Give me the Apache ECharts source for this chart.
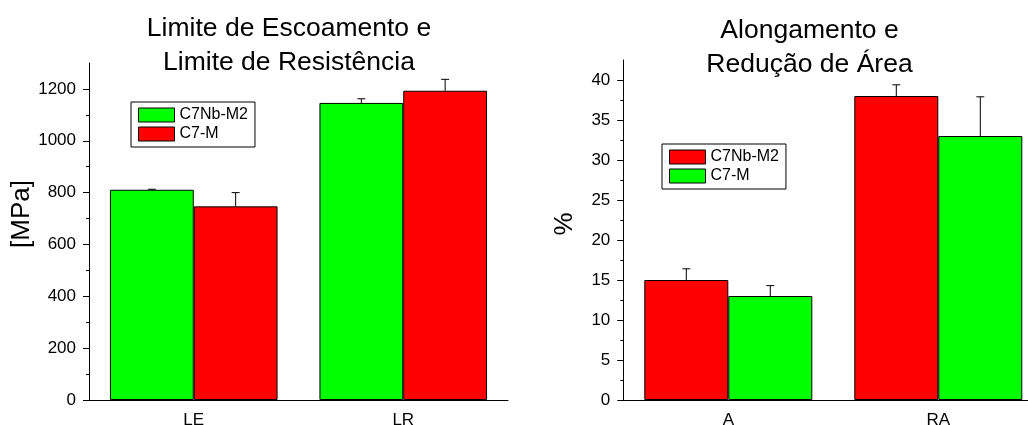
<!DOCTYPE html>
<html><head><meta charset="utf-8">
<script src="https://cdn.jsdelivr.net/npm/echarts@6/dist/echarts.min.js"></script>
<style>
html,body{margin:0;padding:0;background:#fff;}
#l{position:absolute;left:0;top:0;width:520px;height:425px;}
#r{position:absolute;left:520px;top:0;width:508px;height:425px;}
</style>
</head><body>
<div id="l"></div><div id="r"></div>
<script>
// ---- Left chart data ----
const leftTitle = 'Limite de Escoamento e\nLimite de Resistência';
const leftCategories = ['LE', 'LR'];
const leftNbName = 'C7Nb-M2';
const leftNbValues = [811, 1146];
const leftNbErrors = [2, 16];
const leftC7Name = 'C7-M';
const leftC7Values = [747, 1193];
const leftC7Errors = [53, 44];
const leftMajorTicks = [0, 200, 400, 600, 800, 1000, 1200];
const leftMinorTicks = [100, 300, 500, 700, 900, 1100];
const leftMax = 1300;

// ---- Right chart data ----
const rightTitle = 'Alongamento e\nRedução de Área';
const rightCategories = ['A', 'RA'];
const rightNbName = 'C7Nb-M2';
const rightNbValues = [15, 38];
const rightNbErrors = [1.4, 1.4];
const rightC7Name = 'C7-M';
const rightC7Values = [13, 33];
const rightC7Errors = [1.3, 4.9];
const rightMajorTicks = [0, 5, 10, 15, 20, 25, 30, 35, 40];
const rightMinorTicks = [2.5, 7.5, 12.5, 17.5, 22.5, 27.5, 32.5, 37.5];
const rightMax = 42.5;

const GREEN = '#00ff00', RED = '#ff0000', BLACK = '#000000';
const FONT = '"Liberation Sans", Arial, Helvetica, sans-serif';

function errSeries(values, errors, side) {
  return {
    type: 'custom',
    z: 5,
    silent: true,
    data: values.map((v, i) => [i, v, errors[i]]),
    renderItem: function (params, api) {
      const i = api.value(0), v = api.value(1), e = api.value(2);
      const base = api.coord([i, v]);
      const top = api.coord([i, v + e]);
      const band = api.size([1, 0])[0];
      const bw = band * 0.8 / 2;
      const cx = base[0] + (side === 0 ? -bw / 2 : bw / 2);
      const st = { stroke: BLACK, lineWidth: 1 };
      return {
        type: 'group',
        children: [
          { type: 'line', shape: { x1: cx, y1: base[1], x2: cx, y2: top[1] }, style: st },
          { type: 'line', shape: { x1: cx - 4, y1: top[1], x2: cx + 4, y2: top[1] }, style: st }
        ]
      };
    }
  };
}

function buildOption(cfg) {
  return {
    animation: false,
    textStyle: { fontFamily: FONT },
    title: {
      text: cfg.title,
      left: cfg.titleX, top: cfg.titleY, textAlign: 'center', padding: 0,
      textStyle: { fontFamily: FONT, fontSize: 26.5, fontWeight: 'normal', color: BLACK, lineHeight: 34 }
    },
    legend: {
      orient: 'vertical',
      left: cfg.legendX, top: cfg.legendY,
      padding: [5, 7, 5, 7],
      borderColor: BLACK, borderWidth: 1, backgroundColor: '#fff',
      icon: 'rect',
      itemWidth: 36, itemHeight: 14, itemGap: 3,
      itemStyle: { borderColor: BLACK, borderWidth: 1 },
      textStyle: { fontFamily: FONT, fontSize: 16, color: BLACK },
      data: [cfg.s1Name, cfg.s2Name]
    },
    grid: {
      left: cfg.gridLeft, top: cfg.gridTop, width: cfg.gridWidth, height: cfg.gridHeight,
      containLabel: false, outerBoundsMode: 'none'
    },
    xAxis: {
      type: 'category',
      data: cfg.categories,
      axisLine: { lineStyle: { color: BLACK, width: 1 } },
      axisTick: { alignWithLabel: true, length: 6, lineStyle: { color: BLACK } },
      axisLabel: { color: BLACK, fontSize: 17, fontFamily: FONT, margin: 12 },
      splitLine: { show: false }
    },
    yAxis: [{
      type: 'value', min: 0, max: cfg.max, position: 'left',
      name: cfg.yName, nameLocation: 'middle', nameGap: cfg.nameGap, nameMoveOverlap: false,
      nameTextStyle: { fontFamily: FONT, fontSize: 26, color: BLACK, padding: [0, 0, 0, cfg.namePad] },
      axisLine: { show: true, lineStyle: { color: BLACK, width: 1 } },
      axisTick: { show: true, length: 6, lineStyle: { color: BLACK }, customValues: cfg.major },
      axisLabel: { color: BLACK, fontSize: 17, fontFamily: FONT, margin: 13, customValues: cfg.major,
        formatter: function (v) { return String(v); } },
      splitLine: { show: false }
    }, {
      type: 'value', min: 0, max: cfg.max, position: 'left', offset: 0,
      axisLine: { show: false },
      axisTick: { show: true, length: 3, lineStyle: { color: BLACK }, customValues: cfg.minor },
      axisLabel: { show: false },
      splitLine: { show: false }
    }],
    series: [
      {
        name: cfg.s1Name, type: 'bar', data: cfg.s1Values, yAxisIndex: 0,
        barGap: '0%', barCategoryGap: '20%',
        itemStyle: { color: cfg.s1Color, borderColor: BLACK, borderWidth: 1 }
      },
      {
        name: cfg.s2Name, type: 'bar', data: cfg.s2Values, yAxisIndex: 0,
        barGap: '0%', barCategoryGap: '20%',
        itemStyle: { color: cfg.s2Color, borderColor: BLACK, borderWidth: 1 }
      },
      Object.assign(errSeries(cfg.s1Values, cfg.s1Errors, 0), { yAxisIndex: 0 }),
      Object.assign(errSeries(cfg.s2Values, cfg.s2Errors, 1), { yAxisIndex: 0 })
    ]
  };
}

const leftChart = echarts.init(document.getElementById('l'), null, { renderer: 'canvas' });
leftChart.setOption(buildOption({
  title: leftTitle, titleX: 289, titleY: 12,
  legendX: 131, legendY: 102,
  gridLeft: 89, gridTop: 63, gridWidth: 419, gridHeight: 337,
  categories: leftCategories, max: leftMax, major: leftMajorTicks, minor: leftMinorTicks,
  yName: '[MPa]', nameGap: 54, namePad: 35,
  s1Name: leftNbName, s1Values: leftNbValues, s1Errors: leftNbErrors, s1Color: GREEN,
  s2Name: leftC7Name, s2Values: leftC7Values, s2Errors: leftC7Errors, s2Color: RED
}));

const rightChart = echarts.init(document.getElementById('r'), null, { renderer: 'canvas' });
rightChart.setOption(buildOption({
  title: rightTitle, titleX: 289.5, titleY: 13.5,
  legendX: 142, legendY: 144,
  gridLeft: 103.3, gridTop: 60, gridWidth: 420, gridHeight: 340,
  categories: rightCategories, max: rightMax, major: rightMajorTicks, minor: rightMinorTicks,
  yName: '%', nameGap: 45, namePad: 12,
  s1Name: rightNbName, s1Values: rightNbValues, s1Errors: rightNbErrors, s1Color: RED,
  s2Name: rightC7Name, s2Values: rightC7Values, s2Errors: rightC7Errors, s2Color: GREEN
}));
</script>
</body></html>
